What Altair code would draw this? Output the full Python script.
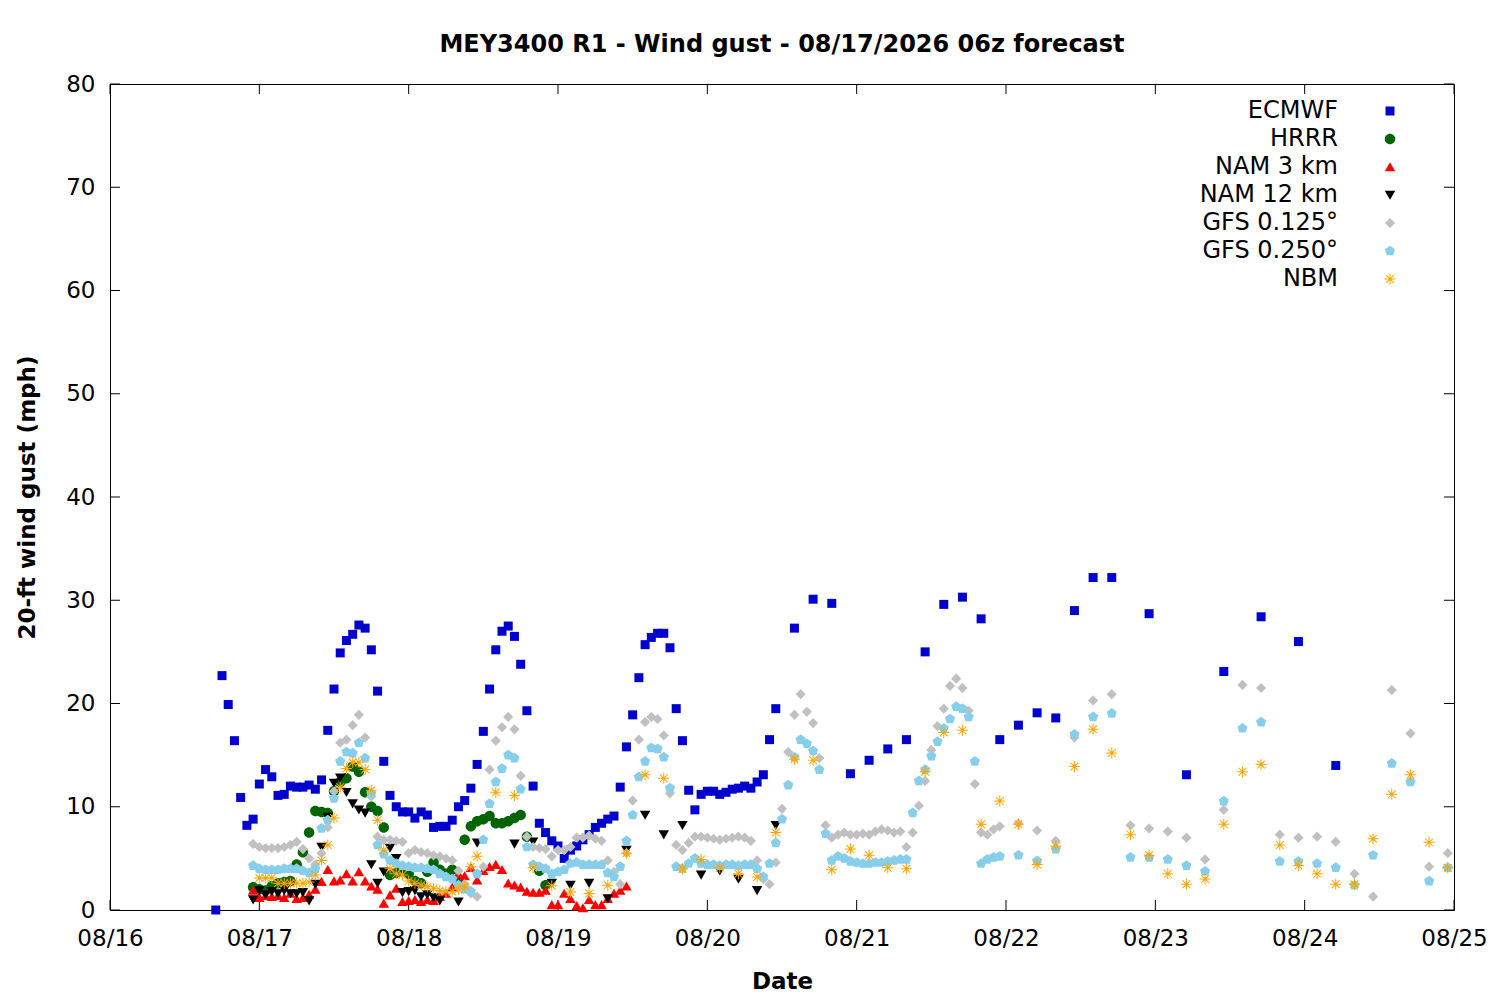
import math
import altair as alt
import pandas as pd

# ---------------- data ----------------
DAY_LABELS = ["08/16", "08/17", "08/18", "08/19", "08/20", "08/21", "08/22", "08/23", "08/24", "08/25"]
TICK_HOURS = [0, 24, 48, 72, 96, 120, 144, 168, 192, 216]
Y_TICKS = [0, 10, 20, 30, 40, 50, 60, 70, 80]

MODELS = ["ECMWF", "HRRR", "NAM 3 km", "NAM 12 km", "GFS 0.125°", "GFS 0.250°", "NBM"]
COLORS = ["#0000cc", "#006400", "#ff0000", "#000000", "#c0c0c0", "#87ceeb", "#ffa500"]

# hours since 08/16 00:00
ecmwf_hours = list(range(17, 108)) + list(range(110, 162, 3)) + list(range(167, 198, 6))
ecmwf_vals = [
    0, 22.7, 19.9, 16.4, 10.9, 8.2, 8.8, 12.2, 13.6, 12.9,
    11.1, 11.2, 12.0, 11.9, 11.9, 12.1, 11.7, 12.6, 17.4, 21.4,
    24.9, 26.1, 26.7, 27.6, 27.3, 25.2, 21.2, 14.4, 11.1, 10.0,
    9.5, 9.5, 8.9, 9.5, 9.2, 8.0, 8.1, 8.1, 8.7, 10.0,
    10.6, 11.8, 14.1, 17.3, 21.4, 25.2, 27.0, 27.5, 26.5, 23.8,
    19.3, 12.0, 8.4, 7.5, 6.7, 6.2, 5.0, 5.8, 6.2, 6.8,
    7.3, 8.0, 8.4, 8.8, 9.1, 11.9, 15.8, 18.9, 22.5, 25.7,
    26.4, 26.8, 26.8, 25.4, 19.5, 16.4, 11.6, 9.7, 11.2, 11.5,
    11.5, 11.2, 11.4, 11.7, 11.8, 12.0, 11.8, 12.4, 13.1, 16.5,
    19.5,
    27.3, 30.1, 29.7, 13.2, 14.5, 15.6, 16.5, 25.0, 29.6, 30.3,
    28.2, 16.5, 17.9, 19.1, 18.6, 29.0, 32.2, 32.2,
    28.7, 13.1, 23.1, 28.4, 26.0, 14.0,
]

hrrr_hours = list(range(23, 68)) + [69, 70]
hrrr_vals = [
    2.2, 2.0, 1.9, 2.3, 2.6, 2.7, 2.8, 4.4, 5.6, 7.5,
    9.6, 9.5, 9.4, 11.5, 12.4, 12.75, 13.9, 13.4, 11.4, 10.0,
    9.6, 8.0, 3.4, 3.6, 4.0, 3.5, 2.8, 2.6, 3.7, 4.6,
    3.9, 3.5, 3.9, 3.0, 6.8, 8.1, 8.6, 8.8, 9.1, 8.4,
    8.4, 8.6, 8.9, 9.2, 7.1,
    3.8, 2.4,
]

nam3_hours = list(range(23, 84))
nam3_vals = [
    1.9, 1.2, 1.4, 1.3, 1.4, 1.2, 1.6, 1.1, 1.2, 1.5,
    2.0, 2.75, 3.9, 2.8, 2.9, 3.5, 2.8, 3.7, 2.8, 2.3,
    2.0, 0.65, 1.45, 2.1, 0.8, 0.9, 1.0, 0.8, 1.0, 0.9,
    1.3, 1.6, 2.2, 3.5, 3.3, 4.1, 2.9, 3.8, 4.2, 4.4,
    3.9, 2.6, 2.4, 2.2, 1.8, 1.7, 1.7, 1.9, 0.5, 0.5,
    1.6, 1.1, 0.4, 0.2, 1.0, 0.5, 0.5, 1.1, 1.6, 1.9,
    2.3,
]

nam12_hours = list(range(23, 54)) + [56, 59, 65, 68, 71, 74, 77, 80, 83, 86, 89, 92, 95, 98, 101, 104, 107]
nam12_vals = [
    1.0, 1.9, 1.5, 1.8, 1.6, 1.9, 1.6, 1.6, 1.7, 0.9,
    2.5, 6.1, 9.0, 12.3, 12.8, 11.4, 10.3, 9.7, 9.4, 4.4,
    2.6, 3.7, 6.0, 5.0, 1.7, 1.8, 1.9, 1.3, 1.5, 1.2,
    0.9,
    0.8, 6.5, 6.4, 6.6, 2.6, 2.4, 2.6, 1.1, 5.8, 9.2,
    7.3, 8.2, 3.4, 3.8, 3.0, 1.9, 8.2,
]

gfs0125_hours = list(range(23, 144)) + list(range(146, 216, 3))
gfs0125_vals = [
    6.4, 6.1, 6.0, 6.0, 6.0, 6.1, 6.3, 6.6, 5.9, 5.0,
    4.4, 5.5, 8.0, 11.5, 16.2, 16.5, 17.9, 18.9, 16.7, 11.0,
    7.1, 6.8, 6.8, 6.7, 6.6, 5.5, 5.8, 5.6, 5.5, 5.3,
    5.2, 5.0, 4.8, 3.8, 2.5, 1.6, 1.3, 4.2, 13.6, 16.4,
    17.7, 18.7, 17.5, 13.0, 7.1, 6.1, 6.0, 5.9, 5.2, 5.8,
    5.8, 6.1, 7.0, 7.0, 7.2, 6.9, 6.7, 4.8, 3.7, 2.5,
    5.5, 10.6, 16.5, 18.2, 18.7, 18.5, 16.9, 11.3, 6.3, 5.8,
    6.5, 7.1, 7.1, 7.0, 6.9, 6.8, 6.9, 7.0, 7.1, 7.0,
    6.7, 4.8, 3.0, 2.5, 4.6, 9.8, 15.3, 18.9, 20.9, 19.2,
    18.1, 14.7, 8.2, 7.0, 7.3, 7.5, 7.3, 7.3, 7.4, 7.3,
    7.6, 7.8, 7.7, 7.5, 7.6, 6.1, 7.5, 10.1, 12.5, 15.5,
    17.8, 19.5, 21.7, 22.4, 21.5, 19.3, 12.2, 7.5, 7.3, 7.8,
    8.1,
    8.4, 7.7, 6.7, 16.7, 20.3, 20.9, 8.2, 7.9, 7.6, 7.0,
    4.9, 9.7, 21.8, 21.5, 7.3, 7.0, 7.1, 6.6, 3.5, 1.3,
    21.3, 17.1, 4.2, 5.5,
]

gfs025_hours = list(range(23, 144)) + list(range(146, 216, 3))
gfs025_vals = [
    4.3, 4.0, 3.9, 3.9, 3.9, 4.0, 4.0, 4.0, 3.8, 3.6,
    4.0, 7.9, 8.7, 10.8, 14.4, 15.3, 15.2, 16.2, 14.7, 11.3,
    6.3, 5.4, 4.8, 4.5, 4.3, 4.2, 4.1, 4.1, 4.0, 3.9,
    3.5, 3.2, 3.0, 2.4, 2.0, 1.8, 3.5, 6.8, 10.3, 12.4,
    13.7, 15.0, 14.7, 11.7, 6.1, 4.4, 4.2, 4.0, 3.5, 3.7,
    3.9, 4.5, 4.6, 4.4, 4.4, 4.4, 4.4, 3.6, 3.2, 4.2,
    6.7, 9.2, 12.9, 14.4, 15.7, 15.6, 14.8, 11.8, 4.2, 4.0,
    4.5, 5.0, 4.5, 4.4, 4.4, 4.3, 4.4, 4.4, 4.3, 4.4,
    4.4, 4.0, 3.2, 4.5, 6.5, 8.8, 12.1, 14.8, 16.5, 16.1,
    15.4, 13.6, 7.4, 4.8, 5.2, 5.0, 4.7, 4.6, 4.5, 4.5,
    4.6, 4.6, 4.7, 4.8, 4.9, 4.9, 9.4, 12.5, 13.6, 14.9,
    16.3, 17.6, 18.5, 19.7, 19.5, 18.7, 14.4, 4.5, 4.9, 5.1,
    5.2,
    5.3, 4.75, 5.9, 17.0, 18.7, 19.05, 5.1, 5.1, 4.9, 4.3,
    3.75, 10.55, 17.6, 18.2, 4.7, 4.7, 4.5, 4.1, 2.4, 5.3,
    14.2, 12.4, 2.8, 4.1,
]

nbm_hours = list(range(24, 60)) + list(range(62, 216, 3))
nbm_vals = [
    3.1, 3.1, 3.1, 2.6, 2.6, 2.6, 2.6, 2.6, 2.7, 3.4,
    4.8, 6.3, 8.9, 11.9, 13.7, 14.3, 14.3, 13.6, 11.6, 8.7,
    5.8, 4.0, 3.5, 3.4, 2.8, 2.6, 2.4, 2.25, 2.1, 1.9,
    1.8, 1.8, 2.0, 2.3, 4.2, 5.2,
    11.4, 11.1, 4.1, 2.35, 1.75, 1.6, 2.4, 5.5, 13.1, 12.75,
    4.0, 4.9, 4.1, 3.5, 3.2, 7.5, 14.6, 14.5, 3.9, 5.9,
    5.3, 4.1, 4.0, 13.4, 17.2, 17.4, 8.3, 10.55, 8.3, 4.4,
    6.2, 13.9, 17.5, 15.2, 7.3, 5.3, 3.5, 2.5, 3.0, 8.3,
    13.4, 14.1, 6.3, 4.3, 3.5, 2.5, 2.5, 6.9, 11.2, 13.1,
    6.55, 4.1,
]

SERIES = [
    (ecmwf_hours, ecmwf_vals),
    (hrrr_hours, hrrr_vals),
    (nam3_hours, nam3_vals),
    (nam12_hours, nam12_vals),
    (gfs0125_hours, gfs0125_vals),
    (gfs025_hours, gfs025_vals),
    (nbm_hours, nbm_vals),
]

# ---------------- marker shapes (style) ----------------
def poly(points):
    return "M" + "L".join(f"{x:.3f},{y:.3f}" for x, y in points) + "Z"

def rotate(points, ang):
    c, s = math.cos(ang), math.sin(ang)
    return [(x * c - y * s, x * s + y * c) for x, y in points]

arm = [(-1.1, -0.1), (1.1, -0.1), (1.1, 0.1), (-1.1, 0.1)]
asterisk = "".join(poly(rotate(arm, k * math.pi / 4)) for k in range(4))
pentagon = poly([(1.07 * math.cos(math.radians(-90 + 72 * k)),
                  1.07 * math.sin(math.radians(-90 + 72 * k))) for k in range(5)])
square = poly([(-0.9, -0.9), (0.9, -0.9), (0.9, 0.9), (-0.9, 0.9)])
tri_up = poly([(0, -0.95), (1.05, 0.87), (-1.05, 0.87)])
tri_down = poly([(0, 0.95), (1.05, -0.87), (-1.05, -0.87)])
diamond = poly([(0, -1.02), (1.02, 0), (0, 1.02), (-1.02, 0)])
circle = "M1.05,0A1.05,1.05,0,1,1,-1.05,0A1.05,1.05,0,1,1,1.05,0Z"
SHAPES = [square, circle, tri_up, tri_down, diamond, pentagon, asterisk]

rows = []
for model, (hrs, vals) in zip(MODELS, SERIES):
    for h, v in zip(hrs, vals):
        rows.append({"model": model, "hour": h, "gust": v})
df = pd.DataFrame(rows)

W, H = 1344, 826
FONT = "DejaVu Sans"

x_scale = alt.Scale(domain=[0, 216], nice=False, zero=False)
y_scale = alt.Scale(domain=[0, 80], nice=False, zero=False)

label_js = "[" + ",".join(f"'{d}'" for d in DAY_LABELS) + "][round(datum.value/24)]"
x_axis = alt.Axis(values=TICK_HOURS, labelExpr=label_js, title="Date",
                  labelFlush=False, labelOverlap=False, labelPadding=17,
                  domain=False, ticks=False, grid=False,
                  labelFont=FONT, labelFontSize=23, labelColor="black",
                  titleFont=FONT, titleFontSize=23, titleFontWeight="bold", titleColor="black",
                  titleX=W / 2, titleY=78, titleBaseline="alphabetic")
y_axis = alt.Axis(values=Y_TICKS, title="20-ft wind gust (mph)", labelFlush=False,
                  labelOverlap=False, labelPadding=15,
                  domain=False, ticks=False, grid=False,
                  labelFont=FONT, labelFontSize=23, labelColor="black",
                  titleFont=FONT, titleFontSize=23, titleFontWeight="bold", titleColor="black",
                  titleX=-83, titleY=H / 2, titleAngle=-90, titleBaseline="middle",
                  titleAlign="center")

legend = alt.Legend(title=None, orient="none", legendX=1268, legendY=15,
                    labelAlign="right", labelOffset={"expr": "-64"}, labelFontSize=24,
                    labelFont=FONT, labelColor="black", labelLimit=0, symbolSize=100,
                    rowPadding=4, padding=0, symbolStrokeWidth=0)

points = alt.Chart(df).mark_point(filled=True, opacity=1, size=100, strokeWidth=0).encode(
    x=alt.X("hour:Q", scale=x_scale, axis=x_axis),
    y=alt.Y("gust:Q", scale=y_scale, axis=y_axis),
    color=alt.Color("model:N", scale=alt.Scale(domain=MODELS, range=COLORS), legend=legend),
    shape=alt.Shape("model:N", scale=alt.Scale(domain=MODELS, range=SHAPES), legend=legend),
)

ytick_df = pd.DataFrame({"gust": Y_TICKS})
xtick_df = pd.DataFrame({"hour": TICK_HOURS})

left_ticks = alt.Chart(ytick_df).mark_rule(color="black", strokeWidth=1).encode(
    y=alt.Y("gust:Q", scale=y_scale, axis=y_axis), x=alt.value(0), x2=alt.value(10))
right_ticks = alt.Chart(ytick_df).mark_rule(color="black", strokeWidth=1).encode(
    y=alt.Y("gust:Q", scale=y_scale, axis=y_axis), x=alt.value(W - 10), x2=alt.value(W))
bottom_ticks = alt.Chart(xtick_df).mark_rule(color="black", strokeWidth=1).encode(
    x=alt.X("hour:Q", scale=x_scale, axis=x_axis), y=alt.value(H - 10), y2=alt.value(H))
top_ticks = alt.Chart(xtick_df).mark_rule(color="black", strokeWidth=1).encode(
    x=alt.X("hour:Q", scale=x_scale, axis=x_axis), y=alt.value(0), y2=alt.value(10))

chart = alt.layer(left_ticks, right_ticks, bottom_ticks, top_ticks, points).properties(
    width=W, height=H,
    background="white",
    title=alt.TitleParams("MEY3400 R1 - Wind gust - 08/17/2026 06z forecast",
                          font=FONT, fontSize=24, fontWeight="bold", color="black",
                          anchor="middle", offset=16),
    autosize=alt.AutoSizeParams(type="none"),
    padding={"left": 102, "top": 76, "right": 38, "bottom": 82},
).configure_view(stroke="black", strokeWidth=1).configure_axis(
    domain=False, ticks=False, grid=False, labelFont=FONT, labelFontSize=23,
    labelColor="black", titleFont=FONT, titleFontSize=23, titleFontWeight="bold",
    titleColor="black",
)

chart.save("out.html", embed_options={"renderer": "svg", "actions": False})
